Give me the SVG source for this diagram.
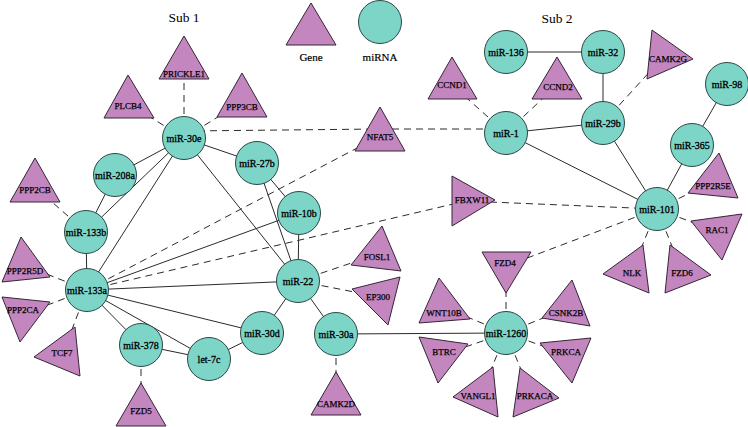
<svg xmlns="http://www.w3.org/2000/svg" width="748" height="427" viewBox="0 0 748 427">
<style>
.mi{fill:#7dd5c8;stroke:#2a4844;stroke-width:1}
.ge{fill:#c386bf;stroke:#352635;stroke-width:1}
.t{font-family:"Liberation Serif","Times New Roman",serif;fill:#000;text-anchor:middle}
.tm{font-size:10px;stroke:#000;stroke-width:0.3}
.tg{font-size:9px;stroke:#000;stroke-width:0.25}
.tl{font-size:11px;stroke:#000;stroke-width:0.2}
.th{font-size:13.5px}
.s{stroke:#2b2b2b;stroke-width:1;fill:none}
.d{stroke:#2b2b2b;stroke-width:1;fill:none;stroke-dasharray:7 5}
</style>
<rect width="748" height="427" fill="#fff"/>
<g id="titles">
<text class="t th" x="184" y="22">Sub 1</text>
<text class="t th" x="557" y="23">Sub 2</text>
</g>
<g id="legend">
<polygon class="ge" points="311,3 286,45 336,45"/>
<circle class="mi" cx="380" cy="22" r="21.5"/>
<text class="t tl" x="311" y="61">Gene</text>
<text class="t tl" x="380" y="61">miRNA</text>
</g>
<g id="edges">
<line class="s" x1="184" y1="138" x2="115" y2="175"/>
<line class="s" x1="184" y1="138" x2="257" y2="163"/>
<line class="s" x1="184" y1="138" x2="86" y2="232"/>
<line class="s" x1="184" y1="138" x2="87" y2="290"/>
<line class="s" x1="184" y1="138" x2="298" y2="281"/>
<line class="s" x1="115" y1="175" x2="86" y2="232"/>
<line class="s" x1="86" y1="232" x2="87" y2="290"/>
<line class="s" x1="87" y1="290" x2="299" y2="213"/>
<line class="s" x1="87" y1="290" x2="298" y2="281"/>
<line class="s" x1="87" y1="290" x2="262" y2="333"/>
<line class="s" x1="87" y1="290" x2="209" y2="359"/>
<line class="s" x1="87" y1="290" x2="141" y2="345"/>
<line class="s" x1="141" y1="345" x2="209" y2="359"/>
<line class="s" x1="209" y1="359" x2="262" y2="333"/>
<line class="s" x1="262" y1="333" x2="298" y2="281"/>
<line class="s" x1="298" y1="281" x2="336" y2="334"/>
<line class="s" x1="298" y1="281" x2="299" y2="213"/>
<line class="s" x1="299" y1="213" x2="257" y2="163"/>
<line class="s" x1="257" y1="163" x2="298" y2="281"/>
<line class="s" x1="336" y1="334" x2="506" y2="333"/>
<line class="s" x1="506" y1="133" x2="603" y2="123"/>
<line class="s" x1="506" y1="133" x2="657" y2="209"/>
<line class="s" x1="506" y1="52" x2="603" y2="52"/>
<line class="s" x1="603" y1="52" x2="603" y2="123"/>
<line class="s" x1="603" y1="123" x2="657" y2="209"/>
<line class="s" x1="692" y1="145" x2="657" y2="209"/>
<line class="s" x1="692" y1="145" x2="727" y2="84"/>
<line class="d" x1="184" y1="138" x2="184" y2="65"/>
<line class="d" x1="184" y1="138" x2="129" y2="104"/>
<line class="d" x1="184" y1="138" x2="242" y2="102"/>
<line class="d" x1="186" y1="131" x2="380" y2="129"/>
<line class="d" x1="380" y1="129" x2="506" y2="129"/>
<line class="d" x1="86" y1="232" x2="35" y2="187"/>
<line class="d" x1="87" y1="290" x2="24" y2="265"/>
<line class="d" x1="87" y1="290" x2="24" y2="314"/>
<line class="d" x1="87" y1="290" x2="63" y2="353"/>
<line class="d" x1="87" y1="290" x2="380" y2="136"/>
<line class="d" x1="87" y1="290" x2="466" y2="201"/>
<line class="d" x1="466" y1="201" x2="657" y2="209"/>
<line class="d" x1="141" y1="345" x2="141" y2="412"/>
<line class="d" x1="336" y1="334" x2="336" y2="401"/>
<line class="d" x1="298" y1="281" x2="378" y2="254"/>
<line class="d" x1="298" y1="281" x2="380" y2="297"/>
<line class="d" x1="506" y1="133" x2="452" y2="85"/>
<line class="d" x1="506" y1="133" x2="557" y2="85"/>
<line class="d" x1="603" y1="123" x2="664" y2="56"/>
<line class="d" x1="657" y1="209" x2="715" y2="181"/>
<line class="d" x1="657" y1="209" x2="718" y2="232"/>
<line class="d" x1="657" y1="209" x2="632" y2="271"/>
<line class="d" x1="657" y1="209" x2="682" y2="271"/>
<line class="d" x1="657" y1="209" x2="506" y2="266"/>
<line class="d" x1="506" y1="333" x2="506" y2="266"/>
<line class="d" x1="506" y1="333" x2="443" y2="307"/>
<line class="d" x1="506" y1="333" x2="442" y2="355"/>
<line class="d" x1="506" y1="333" x2="481" y2="394"/>
<line class="d" x1="506" y1="333" x2="531" y2="394"/>
<line class="d" x1="506" y1="333" x2="568" y2="355"/>
<line class="d" x1="506" y1="333" x2="568" y2="308"/>
</g>
<g id="n-PRICKLE1"><polygon class="ge" points="184,36 159,79 209,79"/><text class="t tg" x="184" y="77">PRICKLE1</text></g>
<g id="n-PLCB4"><polygon class="ge" points="128,75 104,118 154,118"/><text class="t tg" x="128" y="109">PLCB4</text></g>
<g id="n-PPP3CB"><polygon class="ge" points="242,73 217,117 267,117"/><text class="t tg" x="242" y="110">PPP3CB</text></g>
<g id="n-PPP2CB"><polygon class="ge" points="35,158 10,202 60,202"/><text class="t tg" x="35" y="193">PPP2CB</text></g>
<g id="n-PPP2R5D"><polygon class="ge" points="21,237 2,282 50,277"/><text class="t tg" x="25" y="274">PPP2R5D</text></g>
<g id="n-PPP2CA"><polygon class="ge" points="2,297 50,302 20,342"/><text class="t tg" x="23" y="313">PPP2CA</text></g>
<g id="n-TCF7"><polygon class="ge" points="75,327 34,357 80,376"/><text class="t tg" x="62" y="356">TCF7</text></g>
<g id="n-FZD5"><polygon class="ge" points="141,383 116,426 166,426"/><text class="t tg" x="141" y="414">FZD5</text></g>
<g id="n-CAMK2D"><polygon class="ge" points="336,372 311,415 361,415"/><text class="t tg" x="336" y="407">CAMK2D</text></g>
<g id="n-FOSL1"><polygon class="ge" points="382,226 351,265 401,271"/><text class="t tg" x="377" y="260">FOSL1</text></g>
<g id="n-EP300"><polygon class="ge" points="352,289 400,277 388,325"/><text class="t tg" x="378" y="300">EP300</text></g>
<g id="n-NFAT5"><polygon class="ge" points="380,107 355,151 405,151"/><text class="t tg" x="380" y="140">NFAT5</text></g>
<g id="n-CCND1"><polygon class="ge" points="452,57 428,99 477,99"/><text class="t tg" x="452" y="88">CCND1</text></g>
<g id="n-CCND2"><polygon class="ge" points="557,57 532,99 582,99"/><text class="t tg" x="558" y="90">CCND2</text></g>
<g id="n-CAMK2G"><polygon class="ge" points="652,30 647,79 693,59"/><text class="t tg" x="668" y="62">CAMK2G</text></g>
<g id="n-FBXW11"><polygon class="ge" points="452,176 452,226 495,200"/><text class="t tg" x="472" y="203">FBXW11</text></g>
<g id="n-PPP2R5E"><polygon class="ge" points="719,153 688,193 738,198"/><text class="t tg" x="713" y="189">PPP2R5E</text></g>
<g id="n-RAC1"><polygon class="ge" points="691,221 742,214 722,260"/><text class="t tg" x="717" y="233">RAC1</text></g>
<g id="n-NLK"><polygon class="ge" points="643,245 649,293 603,274"/><text class="t tg" x="632" y="276">NLK</text></g>
<g id="n-FZD6"><polygon class="ge" points="670,245 665,293 711,275"/><text class="t tg" x="682" y="276">FZD6</text></g>
<g id="n-FZD4"><polygon class="ge" points="482,252 531,252 506,293"/><text class="t tg" x="505" y="266">FZD4</text></g>
<g id="n-WNT10B"><polygon class="ge" points="439,278 419,323 470,319"/><text class="t tg" x="444" y="316">WNT10B</text></g>
<g id="n-BTRC"><polygon class="ge" points="419,337 468,344 438,383"/><text class="t tg" x="444" y="355">BTRC</text></g>
<g id="n-CSNK2B"><polygon class="ge" points="572,280 542,318 590,326"/><text class="t tg" x="566" y="316">CSNK2B</text></g>
<g id="n-PRKCA"><polygon class="ge" points="540,343 591,338 572,383"/><text class="t tg" x="566" y="355">PRKCA</text></g>
<g id="n-VANGL1"><polygon class="ge" points="493,367 498,417 453,397"/><text class="t tg" x="478" y="399">VANGL1</text></g>
<g id="n-PRKACA"><polygon class="ge" points="520,368 513,417 559,398"/><text class="t tg" x="535" y="399">PRKACA</text></g>
<g id="n-miR-30e"><circle class="mi" cx="184" cy="138" r="21.5"/><text class="t tm" x="184" y="141.5">miR-30e</text></g>
<g id="n-miR-208a"><circle class="mi" cx="115" cy="175" r="21.5"/><text class="t tm" x="115" y="178.5">miR-208a</text></g>
<g id="n-miR-133b"><circle class="mi" cx="86" cy="232" r="21.5"/><text class="t tm" x="86" y="235.5">miR-133b</text></g>
<g id="n-miR-133a"><circle class="mi" cx="87" cy="290" r="21.5"/><text class="t tm" x="87" y="293.5">miR-133a</text></g>
<g id="n-miR-378"><circle class="mi" cx="141" cy="345" r="21.5"/><text class="t tm" x="141" y="348.5">miR-378</text></g>
<g id="n-let-7c"><circle class="mi" cx="209" cy="359" r="21.5"/><text class="t tm" x="209" y="362.5">let-7c</text></g>
<g id="n-miR-30d"><circle class="mi" cx="262" cy="333" r="21.5"/><text class="t tm" x="262" y="336.5">miR-30d</text></g>
<g id="n-miR-30a"><circle class="mi" cx="336" cy="334" r="21.5"/><text class="t tm" x="336" y="337.5">miR-30a</text></g>
<g id="n-miR-22"><circle class="mi" cx="298" cy="281" r="21.5"/><text class="t tm" x="298" y="284.5">miR-22</text></g>
<g id="n-miR-10b"><circle class="mi" cx="299" cy="213" r="21.5"/><text class="t tm" x="299" y="216.5">miR-10b</text></g>
<g id="n-miR-27b"><circle class="mi" cx="257" cy="163" r="21.5"/><text class="t tm" x="257" y="166.5">miR-27b</text></g>
<g id="n-miR-1"><circle class="mi" cx="506" cy="133" r="21.5"/><text class="t tm" x="506" y="136.5">miR-1</text></g>
<g id="n-miR-136"><circle class="mi" cx="506" cy="52" r="21.5"/><text class="t tm" x="506" y="55.5">miR-136</text></g>
<g id="n-miR-32"><circle class="mi" cx="603" cy="52" r="21.5"/><text class="t tm" x="603" y="55.5">miR-32</text></g>
<g id="n-miR-29b"><circle class="mi" cx="603" cy="123" r="21.5"/><text class="t tm" x="603" y="126.5">miR-29b</text></g>
<g id="n-miR-98"><circle class="mi" cx="727" cy="84" r="21.5"/><text class="t tm" x="727" y="87.5">miR-98</text></g>
<g id="n-miR-365"><circle class="mi" cx="692" cy="145" r="21.5"/><text class="t tm" x="692" y="148.5">miR-365</text></g>
<g id="n-miR-101"><circle class="mi" cx="657" cy="209" r="21.5"/><text class="t tm" x="657" y="212.5">miR-101</text></g>
<g id="n-miR-1260"><circle class="mi" cx="506" cy="333" r="21.5"/><text class="t tm" x="506" y="336.5">miR-1260</text></g>
</svg>
